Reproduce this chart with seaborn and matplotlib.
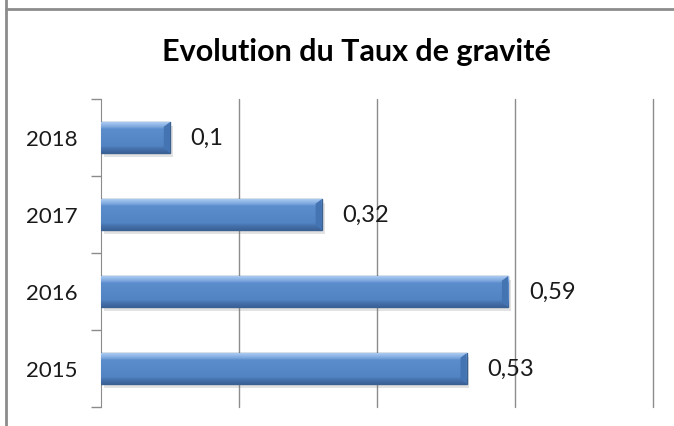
import numpy as np
import pandas as pd
import seaborn as sns
import matplotlib.pyplot as plt
from matplotlib.colors import LinearSegmentedColormap
from matplotlib.lines import Line2D
from matplotlib.patches import Rectangle, Polygon

sns.set_style('white')
plt.rcParams['font.family'] = ['Lato', 'DejaVu Sans']

# data
annees = ['2018', '2017', '2016', '2015']
taux = [0.10, 0.32, 0.59, 0.53]
df = pd.DataFrame({'annee': annees, 'taux': taux})

fig = plt.figure(figsize=(6.74, 4.27), dpi=100)
ax = fig.add_axes([101/674, 1 - 408/427, (653 - 101)/674, (408 - 100)/427])

sns.barplot(data=df, x='taux', y='annee', orient='h', color='#4F81BD',
            width=0.4, edgecolor='#3A6190', linewidth=1, ax=ax, zorder=3)

# excel-like bevel gradient + soft shadow
cmap = LinearSegmentedColormap.from_list(
    'bev', [(0, '#A9C9F0'), (0.14, '#7FA9DF'), (0.22, '#5B8DCC'),
            (0.78, '#5283C2'), (0.86, '#4672AE'), (1, '#3B6299')])
grad = np.linspace(0, 1, 64).reshape(-1, 1)
for p in list(ax.patches):
    x0, y0, w, h = p.get_x(), p.get_y(), p.get_width(), p.get_height()
    ax.add_patch(Rectangle((x0 + 0.004, y0 + 0.05), w, h, color='#7F7F7F',
                           alpha=0.22, lw=0, zorder=2))
    im = ax.imshow(grad, cmap=cmap, aspect='auto', origin='upper',
                   extent=(x0, x0 + w, y0 + h, y0), zorder=4)
    im.set_clip_path(p)
    dx, dy = 0.009, 0.06
    x1, y1 = x0 + w, y0 + h
    ax.add_patch(Polygon([(x1, y0), (x1, y1), (x1 - dx, y1 - dy), (x1 - dx, y0 + dy)],
                         closed=True, color='#4574B3', lw=0, zorder=5))

ax.set_xlim(0, 0.8)
ax.set_ylim(3.5, -0.5)
ax.set_xticks([0.2, 0.4, 0.6, 0.8])
ax.xaxis.grid(True, color='#8C8C8C', lw=1)
for gl in ax.get_xgridlines():
    gl.set_clip_on(False)
ax.set_axisbelow(True)
ax.tick_params(axis='x', length=0, labelbottom=False)
ax.set_xlabel('')
ax.set_ylabel('')

ax.set_yticks(range(4))
ax.set_yticks([-0.5, 0.5, 1.5, 2.5, 3.5], minor=True)
ax.tick_params(axis='y', which='major', length=0, pad=17, labelsize=16, labelcolor='#1A1A1A')
ax.tick_params(axis='y', which='minor', length=7, width=1, color='#8C8C8C', left=True)

for s in ['top', 'right', 'bottom']:
    ax.spines[s].set_visible(False)
ax.spines['left'].set_color('#8C8C8C')

for i, v in enumerate(taux):
    lab = ('%g' % v).replace('.', ',')
    ax.text(v + 0.03, i, lab, va='center', ha='left', fontsize=17, color='#1A1A1A')

fig.text(356/674, 1 - 52/427, 'Evolution du Taux de gravité', ha='center',
         va='center', fontsize=22, fontweight='bold', color='black')

# outer chart frame (cropped)
fig.add_artist(Line2D([6/674, 6/674], [0, 1], color='#8C8C8C', lw=2, transform=fig.transFigure))
fig.add_artist(Line2D([6/674, 1], [1 - 10/427, 1 - 10/427], color='#8C8C8C', lw=2, transform=fig.transFigure))

fig.savefig('out.png', dpi=100)
